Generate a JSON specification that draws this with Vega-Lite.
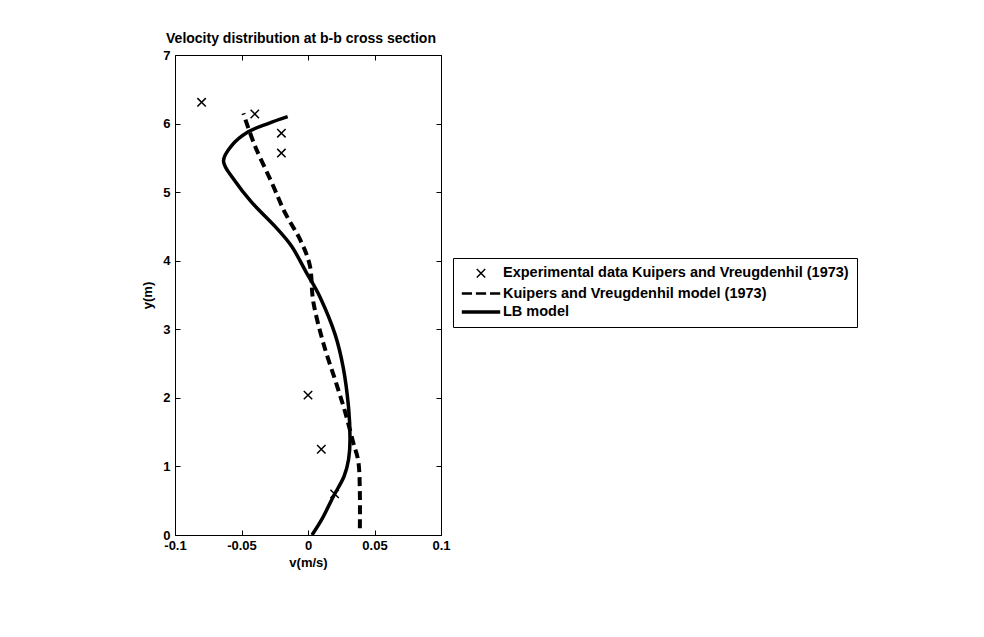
{
  "$schema": "https://vega.github.io/schema/vega-lite/v6.json",
  "width": 266,
  "height": 480,
  "autosize": {"type": "none"},
  "padding": {"left": 175, "top": 55, "right": 543, "bottom": 102},
  "background": "white",
  "title": {
    "text": "Velocity distribution at b-b cross section",
    "font": "Liberation Sans",
    "fontSize": 14,
    "fontWeight": "bold",
    "color": "black",
    "anchor": "middle",
    "offset": 3,
    "dx": -7
  },
  "config": {
    "view": {"stroke": "black", "strokeWidth": 1},
    "axis": {
      "domain": false,
      "grid": false,
      "labelFlush": false,
      "tickColor": "black",
      "tickSize": -5,
      "labelFont": "Liberation Sans",
      "labelFontWeight": "bold",
      "labelFontSize": 13,
      "labelColor": "black",
      "titleFont": "Liberation Sans",
      "titleFontWeight": "bold",
      "titleFontSize": 13,
      "titleColor": "black"
    }
  },
  "data": {
    "values": [
      {"series": "Experimental data Kuipers and Vreugdenhil (1973)", "v": -0.08, "y": 6.31},
      {"series": "Experimental data Kuipers and Vreugdenhil (1973)", "v": -0.04, "y": 6.14},
      {"series": "Experimental data Kuipers and Vreugdenhil (1973)", "v": -0.02, "y": 5.86},
      {"series": "Experimental data Kuipers and Vreugdenhil (1973)", "v": -0.02, "y": 5.57},
      {"series": "Experimental data Kuipers and Vreugdenhil (1973)", "v": 0.0, "y": 2.04},
      {"series": "Experimental data Kuipers and Vreugdenhil (1973)", "v": 0.01, "y": 1.25},
      {"series": "Experimental data Kuipers and Vreugdenhil (1973)", "v": 0.02, "y": 0.6},
      {"series": "Kuipers and Vreugdenhil model (1973)", "v": 0.039, "y": 0.1},
      {"series": "Kuipers and Vreugdenhil model (1973)", "v": 0.039, "y": 0.6},
      {"series": "Kuipers and Vreugdenhil model (1973)", "v": 0.038, "y": 1.05},
      {"series": "Kuipers and Vreugdenhil model (1973)", "v": 0.034, "y": 1.35},
      {"series": "Kuipers and Vreugdenhil model (1973)", "v": 0.0278, "y": 1.8},
      {"series": "Kuipers and Vreugdenhil model (1973)", "v": 0.0216, "y": 2.19},
      {"series": "Kuipers and Vreugdenhil model (1973)", "v": 0.0115, "y": 2.8},
      {"series": "Kuipers and Vreugdenhil model (1973)", "v": 0.004, "y": 3.4},
      {"series": "Kuipers and Vreugdenhil model (1973)", "v": 0.0015, "y": 3.92},
      {"series": "Kuipers and Vreugdenhil model (1973)", "v": -0.006, "y": 4.31},
      {"series": "Kuipers and Vreugdenhil model (1973)", "v": -0.0173, "y": 4.7},
      {"series": "Kuipers and Vreugdenhil model (1973)", "v": -0.0273, "y": 5.14},
      {"series": "Kuipers and Vreugdenhil model (1973)", "v": -0.04, "y": 5.68},
      {"series": "Kuipers and Vreugdenhil model (1973)", "v": -0.0486, "y": 6.15},
      {"series": "LB model", "v": 0.003, "y": 0.0},
      {"series": "LB model", "v": 0.011, "y": 0.25},
      {"series": "LB model", "v": 0.019, "y": 0.56},
      {"series": "LB model", "v": 0.027, "y": 0.85},
      {"series": "LB model", "v": 0.0305, "y": 1.1},
      {"series": "LB model", "v": 0.0316, "y": 1.4},
      {"series": "LB model", "v": 0.0305, "y": 1.86},
      {"series": "LB model", "v": 0.0266, "y": 2.43},
      {"series": "LB model", "v": 0.0203, "y": 2.93},
      {"series": "LB model", "v": 0.009, "y": 3.47},
      {"series": "LB model", "v": -0.001, "y": 3.82},
      {"series": "LB model", "v": -0.0123, "y": 4.21},
      {"series": "LB model", "v": -0.0248, "y": 4.5},
      {"series": "LB model", "v": -0.0423, "y": 4.85},
      {"series": "LB model", "v": -0.056, "y": 5.19},
      {"series": "LB model", "v": -0.0635, "y": 5.45},
      {"series": "LB model", "v": -0.0574, "y": 5.68},
      {"series": "LB model", "v": -0.0449, "y": 5.88},
      {"series": "LB model", "v": -0.03, "y": 6.0},
      {"series": "LB model", "v": -0.0153, "y": 6.1}
    ]
  },
  "layer": [
    {
      "transform": [{"filter": "datum.series === 'Kuipers and Vreugdenhil model (1973)'"}],
      "mark": {"type": "line", "color": "black", "strokeWidth": 4, "strokeDash": [9, 5], "interpolate": "cardinal"},
      "encoding": {
        "x": {"field": "v", "type": "quantitative", "scale": {"domain": [-0.1, 0.1], "nice": false},
          "axis": {"orient": "bottom", "title": "v(m/s)", "values": [-0.1, -0.05, 0, 0.05, 0.1], "labelExpr": "toString(datum.value)", "titlePadding": 4, "labelPadding": 9}},
        "y": {"field": "y", "type": "quantitative", "scale": {"domain": [0, 7], "nice": false},
          "axis": {"orient": "left", "title": "y(m)", "values": [0, 1, 2, 3, 4, 5, 6, 7], "titlePadding": 8, "labelPadding": 10}},
        "order": {"field": "y", "type": "quantitative"}
      }
    },
    {
      "transform": [{"filter": "datum.series === 'LB model'"}],
      "mark": {"type": "line", "color": "black", "strokeWidth": 3.5, "interpolate": "cardinal"},
      "encoding": {
        "x": {"field": "v", "type": "quantitative", "axis": null},
        "y": {"field": "y", "type": "quantitative", "axis": null},
        "order": {"field": "y", "type": "quantitative"}
      }
    },
    {
      "transform": [{"filter": "datum.series === 'Experimental data Kuipers and Vreugdenhil (1973)'"}],
      "mark": {"type": "point", "color": "black", "filled": false, "size": 144, "opacity": 1},
      "encoding": {
        "x": {"field": "v", "type": "quantitative",
          "axis": {"orient": "top", "labels": false, "title": null, "values": [-0.1, -0.05, 0, 0.05, 0.1]}},
        "y": {"field": "y", "type": "quantitative",
          "axis": {"orient": "right", "labels": false, "title": null, "values": [0, 1, 2, 3, 4, 5, 6, 7]}},
        "shape": {
          "field": "series", "type": "nominal",
          "scale": {
            "domain": ["Experimental data Kuipers and Vreugdenhil (1973)", "Kuipers and Vreugdenhil model (1973)", "LB model"],
            "range": ["M-0.7,-0.7L0.7,0.7M-0.7,0.7L0.7,-0.7", "M-3.2,0L-1.5,0M-0.85,0L0.85,0M1.5,0L3.2,0", "M-3.2,0L3.2,0"]
          },
          "legend": {
            "orient": "none", "legendX": 278, "legendY": 203, "title": null,
            "strokeColor": "black", "fillColor": "white", "padding": 8,
            "symbolSize": 144, "symbolOffset": 12, "labelOffset": 14,
            "symbolStrokeColor": "black", "symbolFillColor": "transparent",
            "labelFont": "Liberation Sans", "labelFontWeight": "bold", "labelFontSize": 14.5, "labelColor": "black",
            "labelLimit": 500, "rowPadding": 4
          }
        },
        "strokeWidth": {
          "field": "series", "type": "nominal",
          "scale": {
            "domain": ["Experimental data Kuipers and Vreugdenhil (1973)", "Kuipers and Vreugdenhil model (1973)", "LB model"],
            "range": [1.5, 3.5, 3.5]
          },
          "legend": {
            "orient": "none", "legendX": 278, "legendY": 203, "title": null,
            "strokeColor": "black", "fillColor": "white", "padding": 8,
            "symbolSize": 144, "symbolOffset": 12, "labelOffset": 14,
            "symbolStrokeColor": "black", "symbolFillColor": "transparent",
            "labelFont": "Liberation Sans", "labelFontWeight": "bold", "labelFontSize": 14.5, "labelColor": "black",
            "labelLimit": 500, "rowPadding": 4
          }
        }
      }
    }
  ],
  "resolve": {"axis": {"x": "independent", "y": "independent"}}
}
